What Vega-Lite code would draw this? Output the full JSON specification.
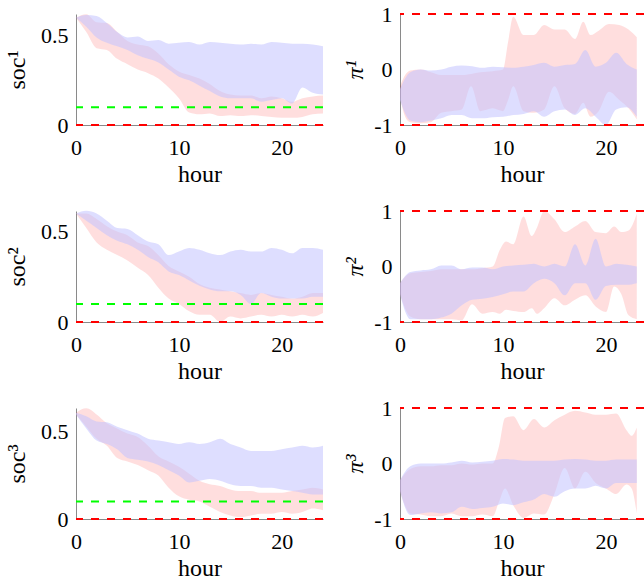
{
  "$schema": "https://vega.github.io/schema/vega-lite/v6.json",
  "background": "white",
  "padding": {"left": 5, "top": 3, "right": 0, "bottom": 0},
  "config": {
    "font": "Liberation Serif",
    "view": {"stroke": null},
    "axis": {"grid": false, "ticks": false, "domainColor": "#8a8a8a", "domainWidth": 1, "labelFont": "Liberation Serif", "labelFontSize": 22, "labelColor": "black", "titleFont": "Liberation Serif", "titleFontSize": 24, "titleFontWeight": "normal", "titleColor": "black", "labelFlush": false, "labelOverlap": false, "labelExpr": "'' + datum.value"},
    "axisX": {"labelPadding": 12, "titlePadding": 4},
    "axisY": {"labelPadding": 8, "titlePadding": 8}
  },
  "datasets": {
    "d": [
      {"p":"soc1","s":"A","h":0,"lo":0.60,"hi":0.60},{"p":"soc1","s":"A","h":1,"lo":0.55,"hi":0.615},{"p":"soc1","s":"A","h":2,"lo":0.49,"hi":0.61},{"p":"soc1","s":"A","h":3,"lo":0.46,"hi":0.57},{"p":"soc1","s":"A","h":4,"lo":0.44,"hi":0.52},{"p":"soc1","s":"A","h":5,"lo":0.42,"hi":0.49},{"p":"soc1","s":"A","h":6,"lo":0.39,"hi":0.495},{"p":"soc1","s":"A","h":7,"lo":0.37,"hi":0.47},{"p":"soc1","s":"A","h":8,"lo":0.35,"hi":0.475},{"p":"soc1","s":"A","h":9,"lo":0.31,"hi":0.455},{"p":"soc1","s":"A","h":10,"lo":0.27,"hi":0.46},{"p":"soc1","s":"A","h":11,"lo":0.25,"hi":0.465},{"p":"soc1","s":"A","h":12,"lo":0.22,"hi":0.45},{"p":"soc1","s":"A","h":13,"lo":0.19,"hi":0.465},{"p":"soc1","s":"A","h":14,"lo":0.16,"hi":0.46},{"p":"soc1","s":"A","h":15,"lo":0.15,"hi":0.455},{"p":"soc1","s":"A","h":16,"lo":0.15,"hi":0.45},{"p":"soc1","s":"A","h":17,"lo":0.15,"hi":0.455},{"p":"soc1","s":"A","h":18,"lo":0.13,"hi":0.45},{"p":"soc1","s":"A","h":19,"lo":0.14,"hi":0.465},{"p":"soc1","s":"A","h":20,"lo":0.15,"hi":0.46},{"p":"soc1","s":"A","h":21,"lo":0.12,"hi":0.455},{"p":"soc1","s":"A","h":22,"lo":0.21,"hi":0.455},{"p":"soc1","s":"A","h":23,"lo":0.18,"hi":0.45},{"p":"soc1","s":"A","h":24,"lo":0.17,"hi":0.44},
      {"p":"soc1","s":"B","h":0,"lo":0.60,"hi":0.60},{"p":"soc1","s":"B","h":1,"lo":0.52,"hi":0.62},{"p":"soc1","s":"B","h":2,"lo":0.43,"hi":0.575},{"p":"soc1","s":"B","h":3,"lo":0.42,"hi":0.57},{"p":"soc1","s":"B","h":4,"lo":0.37,"hi":0.52},{"p":"soc1","s":"B","h":5,"lo":0.34,"hi":0.47},{"p":"soc1","s":"B","h":6,"lo":0.31,"hi":0.45},{"p":"soc1","s":"B","h":7,"lo":0.29,"hi":0.44},{"p":"soc1","s":"B","h":8,"lo":0.26,"hi":0.40},{"p":"soc1","s":"B","h":9,"lo":0.21,"hi":0.34},{"p":"soc1","s":"B","h":10,"lo":0.15,"hi":0.30},{"p":"soc1","s":"B","h":11,"lo":0.07,"hi":0.28},{"p":"soc1","s":"B","h":12,"lo":0.06,"hi":0.26},{"p":"soc1","s":"B","h":13,"lo":0.065,"hi":0.23},{"p":"soc1","s":"B","h":14,"lo":0.05,"hi":0.19},{"p":"soc1","s":"B","h":15,"lo":0.055,"hi":0.17},{"p":"soc1","s":"B","h":16,"lo":0.05,"hi":0.165},{"p":"soc1","s":"B","h":17,"lo":0.055,"hi":0.165},{"p":"soc1","s":"B","h":18,"lo":0.05,"hi":0.15},{"p":"soc1","s":"B","h":19,"lo":0.045,"hi":0.16},{"p":"soc1","s":"B","h":20,"lo":0.04,"hi":0.15},{"p":"soc1","s":"B","h":21,"lo":0.04,"hi":0.13},{"p":"soc1","s":"B","h":22,"lo":0.045,"hi":0.15},{"p":"soc1","s":"B","h":23,"lo":0.06,"hi":0.16},{"p":"soc1","s":"B","h":24,"lo":0.065,"hi":0.165},
      {"p":"soc2","s":"A","h":0,"lo":0.60,"hi":0.60},{"p":"soc2","s":"A","h":1,"lo":0.56,"hi":0.615},{"p":"soc2","s":"A","h":2,"lo":0.52,"hi":0.60},{"p":"soc2","s":"A","h":3,"lo":0.48,"hi":0.56},{"p":"soc2","s":"A","h":4,"lo":0.45,"hi":0.52},{"p":"soc2","s":"A","h":5,"lo":0.43,"hi":0.515},{"p":"soc2","s":"A","h":6,"lo":0.40,"hi":0.48},{"p":"soc2","s":"A","h":7,"lo":0.36,"hi":0.445},{"p":"soc2","s":"A","h":8,"lo":0.33,"hi":0.43},{"p":"soc2","s":"A","h":9,"lo":0.28,"hi":0.37},{"p":"soc2","s":"A","h":10,"lo":0.26,"hi":0.39},{"p":"soc2","s":"A","h":11,"lo":0.23,"hi":0.41},{"p":"soc2","s":"A","h":12,"lo":0.20,"hi":0.40},{"p":"soc2","s":"A","h":13,"lo":0.18,"hi":0.38},{"p":"soc2","s":"A","h":14,"lo":0.17,"hi":0.37},{"p":"soc2","s":"A","h":15,"lo":0.17,"hi":0.39},{"p":"soc2","s":"A","h":16,"lo":0.15,"hi":0.40},{"p":"soc2","s":"A","h":17,"lo":0.10,"hi":0.39},{"p":"soc2","s":"A","h":18,"lo":0.16,"hi":0.39},{"p":"soc2","s":"A","h":19,"lo":0.14,"hi":0.41},{"p":"soc2","s":"A","h":20,"lo":0.13,"hi":0.40},{"p":"soc2","s":"A","h":21,"lo":0.13,"hi":0.38},{"p":"soc2","s":"A","h":22,"lo":0.13,"hi":0.41},{"p":"soc2","s":"A","h":23,"lo":0.14,"hi":0.41},{"p":"soc2","s":"A","h":24,"lo":0.14,"hi":0.40},
      {"p":"soc2","s":"B","h":0,"lo":0.60,"hi":0.60},{"p":"soc2","s":"B","h":1,"lo":0.52,"hi":0.60},{"p":"soc2","s":"B","h":2,"lo":0.44,"hi":0.57},{"p":"soc2","s":"B","h":3,"lo":0.40,"hi":0.53},{"p":"soc2","s":"B","h":4,"lo":0.37,"hi":0.50},{"p":"soc2","s":"B","h":5,"lo":0.34,"hi":0.48},{"p":"soc2","s":"B","h":6,"lo":0.30,"hi":0.44},{"p":"soc2","s":"B","h":7,"lo":0.26,"hi":0.42},{"p":"soc2","s":"B","h":8,"lo":0.19,"hi":0.37},{"p":"soc2","s":"B","h":9,"lo":0.13,"hi":0.31},{"p":"soc2","s":"B","h":10,"lo":0.10,"hi":0.28},{"p":"soc2","s":"B","h":11,"lo":0.06,"hi":0.25},{"p":"soc2","s":"B","h":12,"lo":0.04,"hi":0.21},{"p":"soc2","s":"B","h":13,"lo":0.04,"hi":0.19},{"p":"soc2","s":"B","h":14,"lo":0.0,"hi":0.18},{"p":"soc2","s":"B","h":15,"lo":0.03,"hi":0.17},{"p":"soc2","s":"B","h":16,"lo":0.02,"hi":0.16},{"p":"soc2","s":"B","h":17,"lo":0.03,"hi":0.15},{"p":"soc2","s":"B","h":18,"lo":0.04,"hi":0.16},{"p":"soc2","s":"B","h":19,"lo":0.03,"hi":0.15},{"p":"soc2","s":"B","h":20,"lo":0.04,"hi":0.14},{"p":"soc2","s":"B","h":21,"lo":0.03,"hi":0.13},{"p":"soc2","s":"B","h":22,"lo":0.04,"hi":0.14},{"p":"soc2","s":"B","h":23,"lo":0.03,"hi":0.16},{"p":"soc2","s":"B","h":24,"lo":0.05,"hi":0.16},
      {"p":"soc3","s":"A","h":0,"lo":0.60,"hi":0.61},{"p":"soc3","s":"A","h":1,"lo":0.52,"hi":0.59},{"p":"soc3","s":"A","h":2,"lo":0.45,"hi":0.56},{"p":"soc3","s":"A","h":3,"lo":0.43,"hi":0.555},{"p":"soc3","s":"A","h":4,"lo":0.40,"hi":0.53},{"p":"soc3","s":"A","h":5,"lo":0.35,"hi":0.51},{"p":"soc3","s":"A","h":6,"lo":0.34,"hi":0.49},{"p":"soc3","s":"A","h":7,"lo":0.33,"hi":0.46},{"p":"soc3","s":"A","h":8,"lo":0.31,"hi":0.45},{"p":"soc3","s":"A","h":9,"lo":0.28,"hi":0.44},{"p":"soc3","s":"A","h":10,"lo":0.25,"hi":0.43},{"p":"soc3","s":"A","h":11,"lo":0.21,"hi":0.44},{"p":"soc3","s":"A","h":12,"lo":0.22,"hi":0.43},{"p":"soc3","s":"A","h":13,"lo":0.23,"hi":0.44},{"p":"soc3","s":"A","h":14,"lo":0.22,"hi":0.46},{"p":"soc3","s":"A","h":15,"lo":0.20,"hi":0.43},{"p":"soc3","s":"A","h":16,"lo":0.19,"hi":0.41},{"p":"soc3","s":"A","h":17,"lo":0.19,"hi":0.39},{"p":"soc3","s":"A","h":18,"lo":0.18,"hi":0.39},{"p":"soc3","s":"A","h":19,"lo":0.18,"hi":0.39},{"p":"soc3","s":"A","h":20,"lo":0.17,"hi":0.40},{"p":"soc3","s":"A","h":21,"lo":0.16,"hi":0.41},{"p":"soc3","s":"A","h":22,"lo":0.15,"hi":0.42},{"p":"soc3","s":"A","h":23,"lo":0.14,"hi":0.41},{"p":"soc3","s":"A","h":24,"lo":0.14,"hi":0.42},
      {"p":"soc3","s":"B","h":0,"lo":0.60,"hi":0.61},{"p":"soc3","s":"B","h":1,"lo":0.53,"hi":0.635},{"p":"soc3","s":"B","h":2,"lo":0.46,"hi":0.60},{"p":"soc3","s":"B","h":3,"lo":0.42,"hi":0.55},{"p":"soc3","s":"B","h":4,"lo":0.35,"hi":0.52},{"p":"soc3","s":"B","h":5,"lo":0.33,"hi":0.49},{"p":"soc3","s":"B","h":6,"lo":0.31,"hi":0.47},{"p":"soc3","s":"B","h":7,"lo":0.28,"hi":0.42},{"p":"soc3","s":"B","h":8,"lo":0.25,"hi":0.36},{"p":"soc3","s":"B","h":9,"lo":0.18,"hi":0.33},{"p":"soc3","s":"B","h":10,"lo":0.13,"hi":0.30},{"p":"soc3","s":"B","h":11,"lo":0.11,"hi":0.26},{"p":"soc3","s":"B","h":12,"lo":0.10,"hi":0.22},{"p":"soc3","s":"B","h":13,"lo":0.07,"hi":0.20},{"p":"soc3","s":"B","h":14,"lo":0.04,"hi":0.19},{"p":"soc3","s":"B","h":15,"lo":0.02,"hi":0.17},{"p":"soc3","s":"B","h":16,"lo":0.01,"hi":0.16},{"p":"soc3","s":"B","h":17,"lo":0.02,"hi":0.16},{"p":"soc3","s":"B","h":18,"lo":0.03,"hi":0.15},{"p":"soc3","s":"B","h":19,"lo":0.03,"hi":0.15},{"p":"soc3","s":"B","h":20,"lo":0.04,"hi":0.15},{"p":"soc3","s":"B","h":21,"lo":0.03,"hi":0.16},{"p":"soc3","s":"B","h":22,"lo":0.04,"hi":0.17},{"p":"soc3","s":"B","h":23,"lo":0.06,"hi":0.18},{"p":"soc3","s":"B","h":24,"lo":0.05,"hi":0.17},
      {"p":"pi1","s":"A","h":0,"lo":-0.55,"hi":-0.35},{"p":"pi1","s":"A","h":1,"lo":-0.92,"hi":-0.05},{"p":"pi1","s":"A","h":2,"lo":-0.95,"hi":0.0},{"p":"pi1","s":"A","h":3,"lo":-0.92,"hi":-0.02},{"p":"pi1","s":"A","h":4,"lo":-0.88,"hi":0.0},{"p":"pi1","s":"A","h":5,"lo":-0.82,"hi":0.05},{"p":"pi1","s":"A","h":6,"lo":-0.82,"hi":0.07},{"p":"pi1","s":"A","h":7,"lo":-0.88,"hi":0.06},{"p":"pi1","s":"A","h":8,"lo":-0.88,"hi":0.03},{"p":"pi1","s":"A","h":9,"lo":-0.86,"hi":0.05},{"p":"pi1","s":"A","h":10,"lo":-0.85,"hi":0.04},{"p":"pi1","s":"A","h":11,"lo":-0.82,"hi":0.03},{"p":"pi1","s":"A","h":12,"lo":-0.8,"hi":0.05},{"p":"pi1","s":"A","h":13,"lo":-0.75,"hi":0.08},{"p":"pi1","s":"A","h":14,"lo":-0.85,"hi":0.12},{"p":"pi1","s":"A","h":15,"lo":-0.75,"hi":0.05},{"p":"pi1","s":"A","h":16,"lo":-0.72,"hi":0.08},{"p":"pi1","s":"A","h":17,"lo":-0.82,"hi":0.1},{"p":"pi1","s":"A","h":18,"lo":-0.7,"hi":0.35},{"p":"pi1","s":"A","h":19,"lo":-0.85,"hi":0.05},{"p":"pi1","s":"A","h":20,"lo":-1.0,"hi":0.12},{"p":"pi1","s":"A","h":21,"lo":-0.72,"hi":0.3},{"p":"pi1","s":"A","h":22,"lo":-0.68,"hi":0.1},{"p":"pi1","s":"A","h":23,"lo":-0.85,"hi":0.0},
      {"p":"pi1","s":"B","h":0,"lo":-0.5,"hi":-0.3},{"p":"pi1","s":"B","h":0.5,"lo":-0.85,"hi":-0.1},{"p":"pi1","s":"B","h":1,"lo":-0.95,"hi":-0.02},{"p":"pi1","s":"B","h":2,"lo":-0.97,"hi":0.0},{"p":"pi1","s":"B","h":3,"lo":-0.95,"hi":-0.05},{"p":"pi1","s":"B","h":4,"lo":-0.78,"hi":-0.1},{"p":"pi1","s":"B","h":5,"lo":-0.75,"hi":-0.1},{"p":"pi1","s":"B","h":6,"lo":-0.72,"hi":-0.1},{"p":"pi1","s":"B","h":6.9,"lo":-0.3,"hi":-0.08},{"p":"pi1","s":"B","h":7.8,"lo":-0.75,"hi":-0.05},{"p":"pi1","s":"B","h":9,"lo":-0.7,"hi":-0.03},{"p":"pi1","s":"B","h":10,"lo":-0.75,"hi":0.0},{"p":"pi1","s":"B","h":10.5,"lo":-0.55,"hi":0.5},{"p":"pi1","s":"B","h":11,"lo":-0.3,"hi":0.95},{"p":"pi1","s":"B","h":12,"lo":-0.75,"hi":0.62},{"p":"pi1","s":"B","h":13,"lo":-0.78,"hi":0.62},{"p":"pi1","s":"B","h":14,"lo":-0.72,"hi":0.8},{"p":"pi1","s":"B","h":15,"lo":-0.3,"hi":0.72},{"p":"pi1","s":"B","h":16,"lo":-0.7,"hi":0.72},{"p":"pi1","s":"B","h":17,"lo":-0.8,"hi":0.55},{"p":"pi1","s":"B","h":17.8,"lo":-0.6,"hi":0.86},{"p":"pi1","s":"B","h":18.5,"lo":-0.85,"hi":0.62},{"p":"pi1","s":"B","h":19.3,"lo":-0.75,"hi":0.7},{"p":"pi1","s":"B","h":20.3,"lo":-0.4,"hi":0.82},{"p":"pi1","s":"B","h":21.3,"lo":-0.55,"hi":0.8},{"p":"pi1","s":"B","h":22.2,"lo":-0.7,"hi":0.72},{"p":"pi1","s":"B","h":23,"lo":-0.9,"hi":0.58},
      {"p":"pi2","s":"A","h":0,"lo":-0.5,"hi":-0.3},{"p":"pi2","s":"A","h":1,"lo":-0.95,"hi":-0.1},{"p":"pi2","s":"A","h":2,"lo":-0.95,"hi":-0.07},{"p":"pi2","s":"A","h":3,"lo":-0.95,"hi":-0.05},{"p":"pi2","s":"A","h":4,"lo":-0.92,"hi":0.02},{"p":"pi2","s":"A","h":5,"lo":-0.85,"hi":0.02},{"p":"pi2","s":"A","h":6,"lo":-0.7,"hi":-0.05},{"p":"pi2","s":"A","h":7,"lo":-0.6,"hi":-0.02},{"p":"pi2","s":"A","h":8,"lo":-0.58,"hi":-0.02},{"p":"pi2","s":"A","h":9,"lo":-0.55,"hi":-0.05},{"p":"pi2","s":"A","h":10,"lo":-0.5,"hi":0.0},{"p":"pi2","s":"A","h":11,"lo":-0.45,"hi":0.02},{"p":"pi2","s":"A","h":12,"lo":-0.45,"hi":0.03},{"p":"pi2","s":"A","h":13,"lo":-0.3,"hi":0.05},{"p":"pi2","s":"A","h":14,"lo":-0.22,"hi":0.0},{"p":"pi2","s":"A","h":15,"lo":-0.3,"hi":0.05},{"p":"pi2","s":"A","h":16,"lo":-0.52,"hi":0.0},{"p":"pi2","s":"A","h":17,"lo":-0.3,"hi":0.4},{"p":"pi2","s":"A","h":18,"lo":-0.3,"hi":0.02},{"p":"pi2","s":"A","h":19,"lo":-0.6,"hi":0.5},{"p":"pi2","s":"A","h":20,"lo":-0.35,"hi":0.0},{"p":"pi2","s":"A","h":21,"lo":-0.33,"hi":0.05},{"p":"pi2","s":"A","h":22,"lo":-0.33,"hi":0.03},{"p":"pi2","s":"A","h":23,"lo":-0.3,"hi":0.0},
      {"p":"pi2","s":"B","h":0,"lo":-0.5,"hi":-0.3},{"p":"pi2","s":"B","h":1,"lo":-0.9,"hi":-0.12},{"p":"pi2","s":"B","h":2,"lo":-0.95,"hi":-0.1},{"p":"pi2","s":"B","h":3,"lo":-0.95,"hi":-0.08},{"p":"pi2","s":"B","h":4,"lo":-0.95,"hi":-0.05},{"p":"pi2","s":"B","h":5,"lo":-0.95,"hi":-0.05},{"p":"pi2","s":"B","h":6,"lo":-0.97,"hi":-0.05},{"p":"pi2","s":"B","h":7,"lo":-0.68,"hi":-0.05},{"p":"pi2","s":"B","h":8,"lo":-0.85,"hi":-0.03},{"p":"pi2","s":"B","h":9,"lo":-0.82,"hi":0.0},{"p":"pi2","s":"B","h":9.7,"lo":-0.85,"hi":0.3},{"p":"pi2","s":"B","h":10.3,"lo":-0.78,"hi":0.45},{"p":"pi2","s":"B","h":11,"lo":-0.8,"hi":0.4},{"p":"pi2","s":"B","h":12,"lo":-0.82,"hi":0.9},{"p":"pi2","s":"B","h":12.8,"lo":-0.75,"hi":0.55},{"p":"pi2","s":"B","h":13.3,"lo":-0.85,"hi":0.7},{"p":"pi2","s":"B","h":14,"lo":-0.75,"hi":1.0},{"p":"pi2","s":"B","h":15,"lo":-0.57,"hi":0.85},{"p":"pi2","s":"B","h":16,"lo":-0.7,"hi":0.62},{"p":"pi2","s":"B","h":17,"lo":-0.6,"hi":0.72},{"p":"pi2","s":"B","h":18,"lo":-0.52,"hi":0.82},{"p":"pi2","s":"B","h":19,"lo":-0.72,"hi":0.62},{"p":"pi2","s":"B","h":20,"lo":-0.82,"hi":0.6},{"p":"pi2","s":"B","h":20.8,"lo":-0.36,"hi":0.72},{"p":"pi2","s":"B","h":21.5,"lo":-0.5,"hi":0.62},{"p":"pi2","s":"B","h":22.2,"lo":-0.88,"hi":0.65},{"p":"pi2","s":"B","h":23,"lo":-0.95,"hi":0.95},
      {"p":"pi3","s":"A","h":0,"lo":-0.5,"hi":-0.3},{"p":"pi3","s":"A","h":1,"lo":-0.93,"hi":-0.05},{"p":"pi3","s":"A","h":2,"lo":-0.9,"hi":0.0},{"p":"pi3","s":"A","h":3,"lo":-0.88,"hi":0.0},{"p":"pi3","s":"A","h":4,"lo":-0.9,"hi":0.0},{"p":"pi3","s":"A","h":5,"lo":-0.88,"hi":0.02},{"p":"pi3","s":"A","h":6,"lo":-0.78,"hi":0.05},{"p":"pi3","s":"A","h":7,"lo":-0.82,"hi":0.02},{"p":"pi3","s":"A","h":8,"lo":-0.8,"hi":0.03},{"p":"pi3","s":"A","h":9,"lo":-0.78,"hi":0.05},{"p":"pi3","s":"A","h":10,"lo":-0.72,"hi":0.08},{"p":"pi3","s":"A","h":11,"lo":-0.75,"hi":0.07},{"p":"pi3","s":"A","h":12,"lo":-0.7,"hi":0.05},{"p":"pi3","s":"A","h":13,"lo":-0.65,"hi":0.05},{"p":"pi3","s":"A","h":14,"lo":-0.55,"hi":0.05},{"p":"pi3","s":"A","h":15,"lo":-0.6,"hi":0.05},{"p":"pi3","s":"A","h":16,"lo":-0.5,"hi":0.07},{"p":"pi3","s":"A","h":17,"lo":-0.45,"hi":0.08},{"p":"pi3","s":"A","h":18,"lo":-0.45,"hi":0.07},{"p":"pi3","s":"A","h":19,"lo":-0.4,"hi":0.05},{"p":"pi3","s":"A","h":20,"lo":-0.45,"hi":0.05},{"p":"pi3","s":"A","h":21,"lo":-0.35,"hi":0.07},{"p":"pi3","s":"A","h":22,"lo":-0.35,"hi":0.07},{"p":"pi3","s":"A","h":23,"lo":-0.35,"hi":0.07},
      {"p":"pi3","s":"B","h":0,"lo":-0.5,"hi":-0.3},{"p":"pi3","s":"B","h":1,"lo":-0.9,"hi":-0.1},{"p":"pi3","s":"B","h":2,"lo":-0.92,"hi":-0.05},{"p":"pi3","s":"B","h":3,"lo":-0.95,"hi":-0.05},{"p":"pi3","s":"B","h":4,"lo":-0.95,"hi":-0.03},{"p":"pi3","s":"B","h":5,"lo":-0.9,"hi":-0.03},{"p":"pi3","s":"B","h":6,"lo":-0.95,"hi":0.0},{"p":"pi3","s":"B","h":7,"lo":-0.95,"hi":-0.02},{"p":"pi3","s":"B","h":8,"lo":-0.92,"hi":0.0},{"p":"pi3","s":"B","h":9,"lo":-0.95,"hi":0.0},{"p":"pi3","s":"B","h":9.6,"lo":-0.7,"hi":0.3},{"p":"pi3","s":"B","h":10.2,"lo":-0.45,"hi":0.82},{"p":"pi3","s":"B","h":11,"lo":-0.75,"hi":0.85},{"p":"pi3","s":"B","h":12,"lo":-0.98,"hi":0.6},{"p":"pi3","s":"B","h":13,"lo":-0.9,"hi":0.8},{"p":"pi3","s":"B","h":14,"lo":-0.92,"hi":0.65},{"p":"pi3","s":"B","h":15,"lo":-0.55,"hi":0.78},{"p":"pi3","s":"B","h":16,"lo":-0.08,"hi":0.88},{"p":"pi3","s":"B","h":17,"lo":-0.45,"hi":0.95},{"p":"pi3","s":"B","h":18,"lo":-0.15,"hi":0.92},{"p":"pi3","s":"B","h":19,"lo":-0.35,"hi":0.88},{"p":"pi3","s":"B","h":20,"lo":-0.45,"hi":0.88},{"p":"pi3","s":"B","h":21,"lo":-0.55,"hi":0.9},{"p":"pi3","s":"B","h":22,"lo":-0.38,"hi":0.6},{"p":"pi3","s":"B","h":22.5,"lo":-0.45,"hi":0.5},{"p":"pi3","s":"B","h":23,"lo":-0.9,"hi":0.65}
    ]
  },
  "columns": 2,
  "spacing": {"row": 86, "column": 77},
  "bounds": "flush",
  "concat": [
    {
      "width": 247, "height": 111,
      "encoding": {
        "x": {"field": "h", "type": "quantitative", "scale": {"domain": [0, 24], "nice": false}, "axis": {"values": [0, 10, 20], "title": "hour"}},
        "y": {"field": "lo", "type": "quantitative", "stack": null, "scale": {"domain": [0, 0.621], "nice": false, "zero": false}, "axis": {"values": [0, 0.5], "title": "soc¹", "titlePadding": 11}},
        "y2": {"field": "hi"}
      },
      "layer": [
        {"data": {"name": "d"}, "transform": [{"filter": "datum.p == 'soc1' && datum.s == 'B'"}], "mark": {"type": "area", "interpolate": "monotone", "color": "#ff0000", "opacity": 0.13}},
        {"data": {"name": "d"}, "transform": [{"filter": "datum.p == 'soc1' && datum.s == 'A'"}], "mark": {"type": "area", "interpolate": "monotone", "color": "#c2c2ff", "opacity": 0.55}},
        {"data": {"values": [{"v": 0.1}]}, "mark": {"type": "rule", "color": "#00ff00", "strokeWidth": 2, "strokeDash": [8, 8]}, "encoding": {"x": null, "y2": null, "y": {"field": "v", "type": "quantitative", "title": "soc¹"}}},
        {"data": {"values": [{"v": 0}]}, "mark": {"type": "rule", "color": "#ff0000", "strokeWidth": 2, "strokeDash": [8, 8]}, "encoding": {"x": null, "y2": null, "y": {"field": "v", "type": "quantitative", "title": "soc¹"}}}
      ]
    },
    {
      "width": 244, "height": 111,
      "encoding": {
        "x": {"field": "h", "type": "quantitative", "scale": {"domain": [0, 23.7], "nice": false}, "axis": {"values": [0, 10, 20], "title": "hour"}},
        "y": {"field": "lo", "type": "quantitative", "stack": null, "scale": {"domain": [-1, 1], "nice": false}, "axis": {"values": [-1, 0, 1], "title": "π¹", "titleFontStyle": "italic", "titlePadding": 6}},
        "y2": {"field": "hi"}
      },
      "layer": [
        {"data": {"name": "d"}, "transform": [{"filter": "datum.p == 'pi1' && datum.s == 'B'"}], "mark": {"type": "area", "interpolate": "monotone", "color": "#ff0000", "opacity": 0.13}},
        {"data": {"name": "d"}, "transform": [{"filter": "datum.p == 'pi1' && datum.s == 'A'"}], "mark": {"type": "area", "interpolate": "monotone", "color": "#c2c2ff", "opacity": 0.55}},
        {"data": {"values": [{"v": -1}, {"v": 1}]}, "mark": {"type": "rule", "color": "#ff0000", "strokeWidth": 2, "strokeDash": [8, 8]}, "encoding": {"x": null, "y2": null, "y": {"field": "v", "type": "quantitative", "title": "π¹"}}}
      ]
    },
    {
      "width": 247, "height": 111,
      "encoding": {
        "x": {"field": "h", "type": "quantitative", "scale": {"domain": [0, 24], "nice": false}, "axis": {"values": [0, 10, 20], "title": "hour"}},
        "y": {"field": "lo", "type": "quantitative", "stack": null, "scale": {"domain": [0, 0.614], "nice": false, "zero": false}, "axis": {"values": [0, 0.5], "title": "soc²", "titlePadding": 11}},
        "y2": {"field": "hi"}
      },
      "layer": [
        {"data": {"name": "d"}, "transform": [{"filter": "datum.p == 'soc2' && datum.s == 'B'"}], "mark": {"type": "area", "interpolate": "monotone", "color": "#ff0000", "opacity": 0.13}},
        {"data": {"name": "d"}, "transform": [{"filter": "datum.p == 'soc2' && datum.s == 'A'"}], "mark": {"type": "area", "interpolate": "monotone", "color": "#c2c2ff", "opacity": 0.55}},
        {"data": {"values": [{"v": 0.1}]}, "mark": {"type": "rule", "color": "#00ff00", "strokeWidth": 2, "strokeDash": [8, 8]}, "encoding": {"x": null, "y2": null, "y": {"field": "v", "type": "quantitative", "title": "soc²"}}},
        {"data": {"values": [{"v": 0}]}, "mark": {"type": "rule", "color": "#ff0000", "strokeWidth": 2, "strokeDash": [8, 8]}, "encoding": {"x": null, "y2": null, "y": {"field": "v", "type": "quantitative", "title": "soc²"}}}
      ]
    },
    {
      "width": 244, "height": 111,
      "encoding": {
        "x": {"field": "h", "type": "quantitative", "scale": {"domain": [0, 23.7], "nice": false}, "axis": {"values": [0, 10, 20], "title": "hour"}},
        "y": {"field": "lo", "type": "quantitative", "stack": null, "scale": {"domain": [-1, 1], "nice": false}, "axis": {"values": [-1, 0, 1], "title": "π²", "titleFontStyle": "italic", "titlePadding": 6}},
        "y2": {"field": "hi"}
      },
      "layer": [
        {"data": {"name": "d"}, "transform": [{"filter": "datum.p == 'pi2' && datum.s == 'B'"}], "mark": {"type": "area", "interpolate": "monotone", "color": "#ff0000", "opacity": 0.13}},
        {"data": {"name": "d"}, "transform": [{"filter": "datum.p == 'pi2' && datum.s == 'A'"}], "mark": {"type": "area", "interpolate": "monotone", "color": "#c2c2ff", "opacity": 0.55}},
        {"data": {"values": [{"v": -1}, {"v": 1}]}, "mark": {"type": "rule", "color": "#ff0000", "strokeWidth": 2, "strokeDash": [8, 8]}, "encoding": {"x": null, "y2": null, "y": {"field": "v", "type": "quantitative", "title": "π²"}}}
      ]
    },
    {
      "width": 247, "height": 111,
      "encoding": {
        "x": {"field": "h", "type": "quantitative", "scale": {"domain": [0, 24], "nice": false}, "axis": {"values": [0, 10, 20], "title": "hour"}},
        "y": {"field": "lo", "type": "quantitative", "stack": null, "scale": {"domain": [0, 0.637], "nice": false, "zero": false}, "axis": {"values": [0, 0.5], "title": "soc³", "titlePadding": 11}},
        "y2": {"field": "hi"}
      },
      "layer": [
        {"data": {"name": "d"}, "transform": [{"filter": "datum.p == 'soc3' && datum.s == 'B'"}], "mark": {"type": "area", "interpolate": "monotone", "color": "#ff0000", "opacity": 0.13}},
        {"data": {"name": "d"}, "transform": [{"filter": "datum.p == 'soc3' && datum.s == 'A'"}], "mark": {"type": "area", "interpolate": "monotone", "color": "#c2c2ff", "opacity": 0.55}},
        {"data": {"values": [{"v": 0.1}]}, "mark": {"type": "rule", "color": "#00ff00", "strokeWidth": 2, "strokeDash": [8, 8]}, "encoding": {"x": null, "y2": null, "y": {"field": "v", "type": "quantitative", "title": "soc³"}}},
        {"data": {"values": [{"v": 0}]}, "mark": {"type": "rule", "color": "#ff0000", "strokeWidth": 2, "strokeDash": [8, 8]}, "encoding": {"x": null, "y2": null, "y": {"field": "v", "type": "quantitative", "title": "soc³"}}}
      ]
    },
    {
      "width": 244, "height": 111,
      "encoding": {
        "x": {"field": "h", "type": "quantitative", "scale": {"domain": [0, 23.7], "nice": false}, "axis": {"values": [0, 10, 20], "title": "hour"}},
        "y": {"field": "lo", "type": "quantitative", "stack": null, "scale": {"domain": [-1, 1], "nice": false}, "axis": {"values": [-1, 0, 1], "title": "π³", "titleFontStyle": "italic", "titlePadding": 6}},
        "y2": {"field": "hi"}
      },
      "layer": [
        {"data": {"name": "d"}, "transform": [{"filter": "datum.p == 'pi3' && datum.s == 'B'"}], "mark": {"type": "area", "interpolate": "monotone", "color": "#ff0000", "opacity": 0.13}},
        {"data": {"name": "d"}, "transform": [{"filter": "datum.p == 'pi3' && datum.s == 'A'"}], "mark": {"type": "area", "interpolate": "monotone", "color": "#c2c2ff", "opacity": 0.55}},
        {"data": {"values": [{"v": -1}, {"v": 1}]}, "mark": {"type": "rule", "color": "#ff0000", "strokeWidth": 2, "strokeDash": [8, 8]}, "encoding": {"x": null, "y2": null, "y": {"field": "v", "type": "quantitative", "title": "π³"}}}
      ]
    }
  ]
}
